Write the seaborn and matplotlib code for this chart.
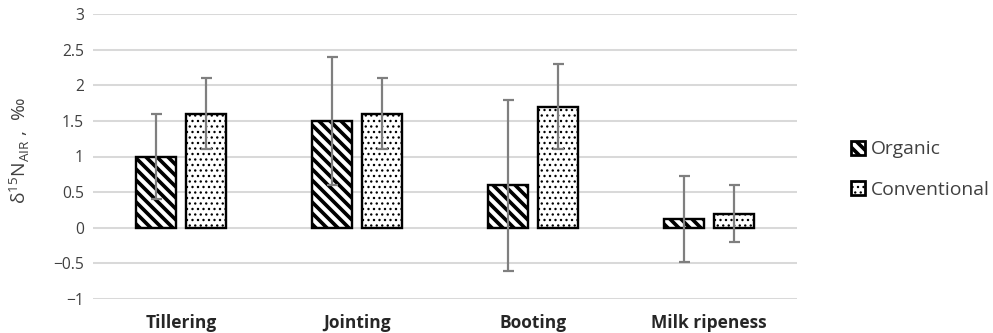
import matplotlib
matplotlib.use("Agg")
import matplotlib.pyplot as plt
import seaborn as sns
import pandas as pd
from matplotlib.patches import Patch
from matplotlib.legend_handler import HandlerPatch

stages = ["Tillering", "Jointing", "Booting", "Milk ripeness"]
organic = [1.0, 1.5, 0.6, 0.12]
organic_err = [0.6, 0.9, 1.2, 0.6]
conventional = [1.6, 1.6, 1.7, 0.2]
conventional_err = [0.5, 0.5, 0.6, 0.4]
series = ["Organic", "Conventional"]
yticks = [-1, -0.5, 0, 0.5, 1, 1.5, 2, 2.5, 3]
ytick_labels = ["\u22121", "\u22120.5", "0", "0.5", "1", "1.5", "2", "2.5", "3"]

sns.set_theme(style="white")
plt.rcParams["font.family"] = ["Open Sans", "DejaVu Sans"]
plt.rcParams["hatch.linewidth"] = 2.0
plt.rcParams["mathtext.fontset"] = "custom"
plt.rcParams["mathtext.rm"] = "Open Sans"

df = pd.DataFrame({
    "stage": stages * 2,
    "value": organic + conventional,
    "series": [series[0]] * 4 + [series[1]] * 4,
})

DPI = 132
fig = plt.figure(figsize=(993 / DPI, 333 / DPI), dpi=DPI)
ax = fig.add_axes([93 / 993, (333 - 299) / 333, (797 - 93) / 993, (299 - 14) / 333])

sns.barplot(data=df, x="stage", y="value", hue="series", hue_order=series,
            order=stages, palette=["white", "white"], width=0.568, gap=0.2,
            errorbar=None, edgecolor="black", linewidth=1.3, legend=False, ax=ax)

hatches = ["\\\\\\\\", "...."]
hatch_lw = [2.0, 0.7]


def set_hlw(p, lw):
    if hasattr(p, "set_hatch_linewidth"):
        p.set_hatch_linewidth(lw)
    else:
        p._hatch_linewidth = lw


def get_hlw(p):
    if hasattr(p, "get_hatch_linewidth"):
        return p.get_hatch_linewidth()
    return getattr(p, "_hatch_linewidth", 2.0)


errs = [organic_err, conventional_err]
vals = [organic, conventional]
for cont, h, hl, e, v in zip(ax.containers, hatches, hatch_lw, errs, vals):
    xs = []
    for bar in cont:
        bar.set_hatch(h)
        set_hlw(bar, hl)
        bar.set_edgecolor("black")
        bar.set_zorder(2)
        xs.append(bar.get_x() + bar.get_width() / 2)
    ax.errorbar(xs, v, yerr=e, fmt="none", ecolor="#7f7f7f", elinewidth=1.2,
                capsize=3, capthick=1.2, zorder=3)

ax.set_ylim(-1, 3)
ax.set_xlim(-0.5, 3.5)
ax.set_yticks(yticks)
ax.set_yticklabels(ytick_labels, fontsize=8.5, color="#404040")
ax.set_xticks(range(len(stages)))
ax.set_xticklabels(stages, fontsize=9.5, fontweight="bold", color="#262626")
ax.tick_params(axis="both", length=0)
ax.tick_params(axis="y", pad=5)
ax.tick_params(axis="x", pad=8)
ax.grid(axis="y", color="#d9d9d9", linewidth=1.1, zorder=0)
ax.set_axisbelow(True)
for s in ax.spines.values():
    s.set_visible(False)
ax.set_xlabel("")
ax.set_ylabel("")
fig.text(20 / 993, (333 - 150) / 333,
         r"δ$^{\mathregular{15}}$N$_{\mathregular{AIR}}$ ,  ‰",
         rotation=90, ha="center", va="center", fontsize=10.5, color="#404040")

handles = []
for h, hl in zip(hatches, hatch_lw):
    p = Patch(facecolor="white", edgecolor="black", hatch=h, linewidth=1.5)
    set_hlw(p, hl)
    handles.append(p)


def copy_hlw(legend_handle, orig_handle):
    legend_handle.update_from(orig_handle)
    set_hlw(legend_handle, get_hlw(orig_handle))


fig.legend(handles, series, loc="center left", bbox_to_anchor=(851 / 993, (333 - 169.5) / 333),
           frameon=False, fontsize=10.5, handlelength=0.73, handleheight=0.73,
           handletextpad=0.28, labelspacing=1.16, borderpad=0, borderaxespad=0,
           labelcolor="#404040",
           handler_map={Patch: HandlerPatch(update_func=copy_hlw)})

fig.savefig("out.png", dpi=DPI)
